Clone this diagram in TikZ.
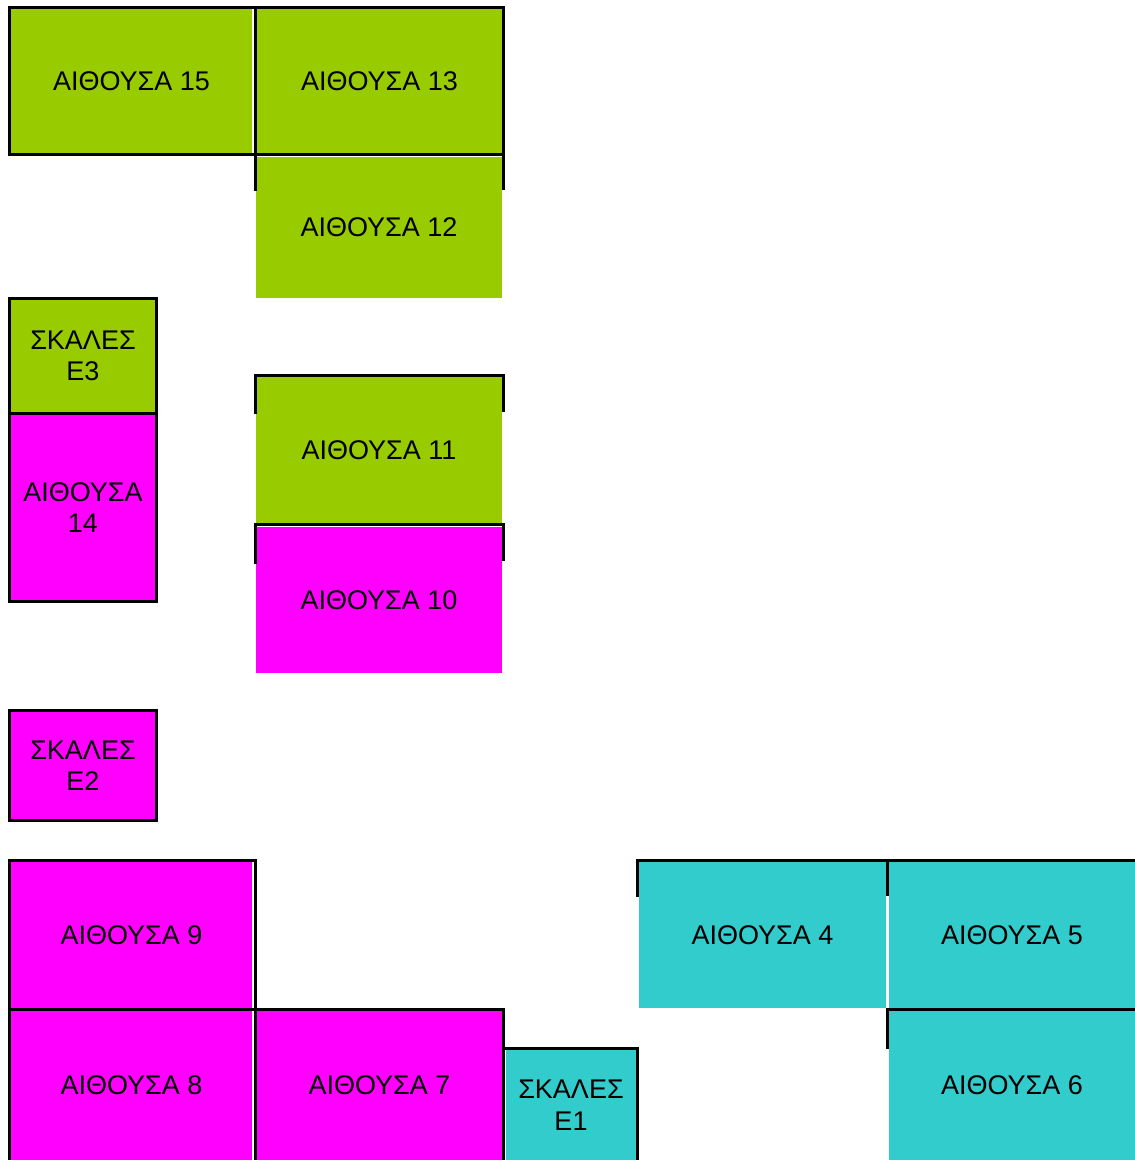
\documentclass[tikz,border=0pt]{standalone}
\usepackage{fontspec}
\setmainfont{Liberation Sans}
\definecolor{gr}{HTML}{99CC00}
\definecolor{mg}{HTML}{FF00FF}
\definecolor{cy}{HTML}{33CCCC}
\newcommand{\roomfont}{\fontsize{27}{31.5}\selectfont}
\tikzset{
  room/.style n args={3}{fill=#1, minimum width=#2, minimum height=#3,
    inner sep=0pt, outer sep=0pt, font=\roomfont, align=center, text=black},
  wall/.style={line width=3pt, draw=black, line join=miter}
}
\begin{document}
\begin{tikzpicture}[x=1pt, y=-1pt]
\useasboundingbox (0,0) rectangle (1135,1160);
% rooms
\node[room={gr}{241pt}{144pt}] (r15) at (131.5,81) {ΑΙΘΟΥΣΑ 15};
\node[room={gr}{245pt}{144pt}] (r13) at (379.5,81) {ΑΙΘΟΥΣΑ 13};
\node[room={gr}{246pt}{141pt}] (r12) at (379,227.5) {ΑΙΘΟΥΣΑ 12};
\node[room={gr}{144pt}{112pt}] (e3) at (83,356) {ΣΚΑΛΕΣ\\Ε3};
\node[room={mg}{144pt}{185pt}] (r14) at (83,507.5) {ΑΙΘΟΥΣΑ\\14};
\node[room={gr}{246pt}{146pt}] (r11) at (379,450) {ΑΙΘΟΥΣΑ 11};
\node[room={mg}{246pt}{146pt}] (r10) at (379,600) {ΑΙΘΟΥΣΑ 10};
\node[room={mg}{144pt}{107pt}] (e2) at (83,765.5) {ΣΚΑΛΕΣ\\Ε2};
\node[room={mg}{241pt}{146pt}] (r9) at (131.5,935) {ΑΙΘΟΥΣΑ 9};
\node[room={mg}{241pt}{149pt}] (r8) at (131.5,1085.5) {ΑΙΘΟΥΣΑ 8};
\node[room={mg}{245pt}{149pt}] (r7) at (379.5,1085.5) {ΑΙΘΟΥΣΑ 7};
\node[room={cy}{130pt}{110pt}] (e1) at (571,1105) {ΣΚΑΛΕΣ\\Ε1};
\node[room={cy}{247pt}{146pt}] (r4) at (762.5,935) {ΑΙΘΟΥΣΑ 4};
\node[room={cy}{246pt}{146pt}] (r5) at (1012,935) {ΑΙΘΟΥΣΑ 5};
\node[room={cy}{246pt}{149pt}] (r6) at (1012,1085.5) {ΑΙΘΟΥΣΑ 6};
% walls
\draw[wall] (9.5,7.5) rectangle (503.5,154.5);
\draw[wall] (255.5,7.5) -- (255.5,191);
\draw[wall] (503.5,154.5) -- (503.5,190);
\draw[wall] (9.5,298.5) rectangle (156.5,601.5);
\draw[wall] (9.5,413.5) -- (156.5,413.5);
\draw[wall] (255.5,414) -- (255.5,375.5) -- (503.5,375.5) -- (503.5,412);
\draw[wall] (255.5,564) -- (255.5,524.5) -- (503.5,524.5) -- (503.5,561);
\draw[wall] (9.5,710.5) rectangle (156.5,820.5);
\draw[wall] (9.5,1160) -- (9.5,860.5) -- (255.5,860.5) -- (255.5,1160);
\draw[wall] (9.5,1009.5) -- (503.5,1009.5) -- (503.5,1160);
\draw[wall] (503.5,1048.5) -- (637.5,1048.5) -- (637.5,1160);
\draw[wall] (637.5,897) -- (637.5,860.5) -- (1135,860.5);
\draw[wall] (887.5,860.5) -- (887.5,896);
\draw[wall] (887.5,1049) -- (887.5,1009.5) -- (1135,1009.5);
\end{tikzpicture}
\end{document}
